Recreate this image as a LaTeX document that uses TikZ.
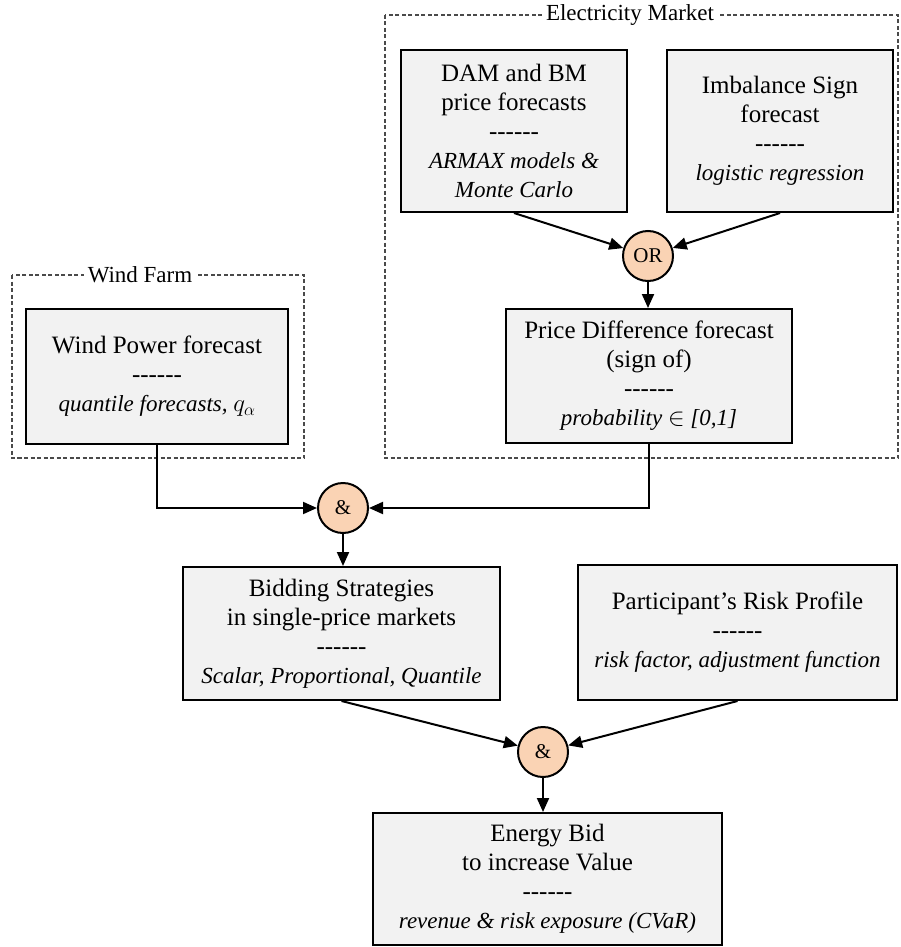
\documentclass[tikz,border=0pt]{standalone}
\usepackage{fontspec}
\setmainfont{Liberation Serif}
\usetikzlibrary{arrows.meta}

\definecolor{boxfill}{HTML}{F2F2F2}
\definecolor{gatefill}{HTML}{FAD3B4}
\definecolor{groupline}{HTML}{4A4A4A}

% six separate hyphens, kept apart so they never merge into dashes
\newcommand\dashrow{\mbox{-}\mbox{-}\mbox{-}\mbox{-}\mbox{-}\mbox{-}}
\newcommand\note[1]{{\fontsize{23}{28}\selectfont\itshape #1}}

\tikzset{
  stage/.style={draw=black, line width=2pt, fill=boxfill, align=center,
    inner sep=0pt, font=\fontsize{25}{29}\selectfont},
  gate/.style={circle, draw=black, line width=2pt, fill=gatefill,
    minimum size=50pt, inner sep=0pt, font=\fontsize{21}{24}\selectfont},
  group/.style={draw=groupline, line width=1.1pt, dash pattern=on 4pt off 2.5pt},
  grouplabel/.style={fill=white, inner xsep=4pt, inner ysep=1pt,
    font=\fontsize{23}{26}\selectfont},
  flow/.style={line width=2pt, -{Triangle[length=14pt,width=12pt]}},
}

\begin{document}
\begin{tikzpicture}[x=1pt,y=-1pt]
\useasboundingbox (0,0) rectangle (900,947);

% grouping frames
\draw[group] (12,275) rectangle (304,458);
\node[grouplabel] (wflabel) at (140,275) {Wind Farm};
\draw[group] (385,15) rectangle (898,458);
\node[grouplabel] (emlabel) at (630,15) {Electricity Market};

% forecasting stages
\node[stage, minimum width=262pt, minimum height=135pt] (wp) at (157,376.5)
  {Wind Power forecast\\ \dashrow\\ \note{quantile forecasts, $q_\alpha$}};
\node[stage, minimum width=226pt, minimum height=162pt] (dam) at (514,131)
  {DAM and BM\\ price forecasts\\ \dashrow\\ \note{ARMAX models \&}\\ \note{Monte Carlo}};
\node[stage, minimum width=226pt, minimum height=162pt] (imb) at (780,131)
  {Imbalance Sign\\ forecast\\ \dashrow\\ \note{logistic regression}};
\node[gate] (or) at (648,256) {OR};
\node[stage, minimum width=286pt, minimum height=134pt] (pd) at (649,376)
  {Price Difference forecast\\ (sign of)\\ \dashrow\\ \note{probability $\in$ [0,1]}};

% combination and bidding
\node[gate] (and1) at (343,508) {\&};
\node[stage, minimum width=317pt, minimum height=133pt] (bid) at (341.5,633.5)
  {Bidding Strategies\\ in single-price markets\\ \dashrow\\ \note{Scalar, Proportional, Quantile}};
\node[stage, minimum width=319pt, minimum height=135pt] (risk) at (737.5,632.5)
  {Participant’s Risk Profile\\ \dashrow\\ \note{risk factor, adjustment function}};
\node[gate] (and2) at (543,752) {\&};
\node[stage, minimum width=349pt, minimum height=132pt] (eb) at (547.5,879)
  {Energy Bid\\ to increase Value\\ \dashrow\\ \note{revenue \& risk exposure (CVaR)}};

% connectors
\draw[flow] (dam.south) -- (or);
\draw[flow] (imb.south) -- (or);
\draw[flow] (or.south) -- (or.south |- pd.north);
\draw[flow] (wp.south) |- (and1);
\draw[flow] (pd.south) |- (and1);
\draw[flow] (and1.south) -- (and1.south |- bid.north);
\draw[flow] (bid.south) -- (and2);
\draw[flow] (risk.south) -- (and2);
\draw[flow] (and2.south) -- (and2.south |- eb.north);
\end{tikzpicture}
\end{document}
